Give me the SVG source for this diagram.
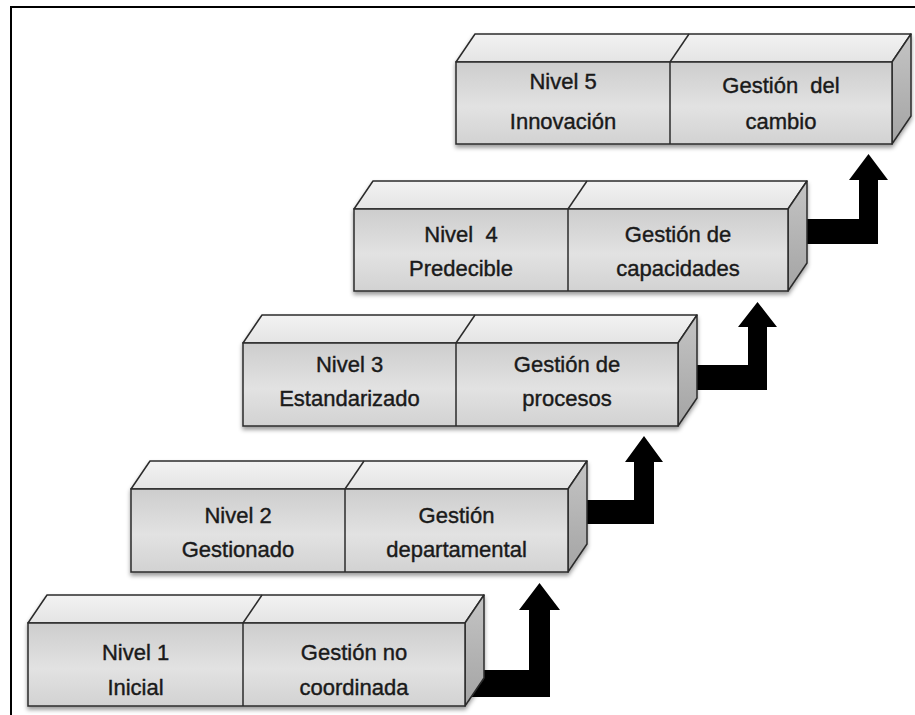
<svg xmlns="http://www.w3.org/2000/svg" width="915" height="715" viewBox="0 0 915 715">
<style>
.front{fill:url(#gFront);stroke:#2b2b2b;stroke-width:1.5}
.top{fill:url(#gTop);stroke:#2b2b2b;stroke-width:1.5;stroke-linejoin:round}
.side{fill:url(#gSide);stroke:#2b2b2b;stroke-width:1.5;stroke-linejoin:round}
.div{stroke:#2b2b2b;stroke-width:1.5;fill:none}
.t{font-family:"Liberation Sans",Arial,sans-serif;font-size:22px;fill:#1a1a1a;stroke:#1a1a1a;stroke-width:0.4;text-anchor:middle;white-space:pre}
.arrow{fill:#000}
.frame{stroke:#000;stroke-width:2;fill:none}
</style>
<defs>
<linearGradient id="gFront" x1="0" y1="0" x2="0" y2="1">
<stop offset="0" stop-color="#cdcdcd"/>
<stop offset="0.55" stop-color="#e2e2e2"/>
<stop offset="1" stop-color="#d2d2d2"/>
</linearGradient>
<linearGradient id="gTop" x1="0" y1="0" x2="0" y2="1">
<stop offset="0" stop-color="#f2f2f2"/>
<stop offset="1" stop-color="#e4e4e4"/>
</linearGradient>
<linearGradient id="gSide" x1="0" y1="0" x2="0" y2="1">
<stop offset="0" stop-color="#c4c4c4"/>
<stop offset="1" stop-color="#a4a4a4"/>
</linearGradient>
<filter id="shadow" x="-5%" y="-20%" width="110%" height="140%">
<feDropShadow dx="0" dy="3" stdDeviation="2" flood-color="#000" flood-opacity="0.4"/>
</filter>
</defs>
<rect width="915" height="715" fill="#fff"/>
<path class="frame" d="M11,715 V7 H915"/>

<g id="connectors">
<polygon class="arrow" points="470,670 529,670 529,610 519,610 539.5,583 560,610 550,610 550,697 470,697"/>
<polygon class="arrow" points="580,500 634,500 634,462 625,462 644,436 663,462 654,462 654,524 580,524"/>
<polygon class="arrow" points="690,365 748,365 748,327 738,327 757.5,302 777,327 767,327 767,390 690,390"/>
<polygon class="arrow" points="800,219 859,219 859,180 849,180 868.5,154 888,180 878,180 878,244 800,244"/>
</g>

<g id="nivel1">
<g filter="url(#shadow)">
<polygon class="top" points="28,623 47,595 484,595 465,623"/>
<polygon class="side" points="465,623 484,595 484,678 465,706"/>
<rect class="front" x="28" y="623" width="437" height="83"/>
</g>
<line class="div" x1="243" y1="623" x2="243" y2="706"/>
<line class="div" x1="243" y1="623" x2="262" y2="595"/>
<text class="t" x="135.5" y="660">Nivel 1</text>
<text class="t" x="135.5" y="695">Inicial</text>
<text class="t" x="354" y="660">Gestión no</text>
<text class="t" x="354" y="695">coordinada</text>
</g>

<g id="nivel2">
<g filter="url(#shadow)">
<polygon class="top" points="131,489 150,461 587,461 568,489"/>
<polygon class="side" points="568,489 587,461 587,544 568,572"/>
<rect class="front" x="131" y="489" width="437" height="83"/>
</g>
<line class="div" x1="345" y1="489" x2="345" y2="572"/>
<line class="div" x1="345" y1="489" x2="364" y2="461"/>
<text class="t" x="238" y="523">Nivel 2</text>
<text class="t" x="238" y="557">Gestionado</text>
<text class="t" x="456.5" y="523">Gestión</text>
<text class="t" x="456.5" y="557">departamental</text>
</g>

<g id="nivel3">
<g filter="url(#shadow)">
<polygon class="top" points="243,343 262,315 697,315 678,343"/>
<polygon class="side" points="678,343 697,315 697,398 678,426"/>
<rect class="front" x="243" y="343" width="435" height="83"/>
</g>
<line class="div" x1="456" y1="343" x2="456" y2="426"/>
<line class="div" x1="456" y1="343" x2="475" y2="315"/>
<text class="t" x="349.5" y="372">Nivel 3</text>
<text class="t" x="349.5" y="406">Estandarizado</text>
<text class="t" x="567" y="372">Gestión de</text>
<text class="t" x="567" y="406">procesos</text>
</g>

<g id="nivel4">
<g filter="url(#shadow)">
<polygon class="top" points="354,209 373,181 807,181 788,209"/>
<polygon class="side" points="788,209 807,181 807,263 788,291"/>
<rect class="front" x="354" y="209" width="434" height="82"/>
</g>
<line class="div" x1="568" y1="209" x2="568" y2="291"/>
<line class="div" x1="568" y1="209" x2="587" y2="181"/>
<text class="t" x="461" y="242">Nivel  4</text>
<text class="t" x="461" y="276">Predecible</text>
<text class="t" x="678" y="242">Gestión de</text>
<text class="t" x="678" y="276">capacidades</text>
</g>

<g id="nivel5">
<g filter="url(#shadow)">
<polygon class="top" points="456,62 475,34 911,34 892,62"/>
<polygon class="side" points="892,62 911,34 911,116 892,144"/>
<rect class="front" x="456" y="62" width="436" height="82"/>
</g>
<line class="div" x1="670" y1="62" x2="670" y2="144"/>
<line class="div" x1="670" y1="62" x2="689" y2="34"/>
<text class="t" x="563" y="89">Nivel 5</text>
<text class="t" x="563" y="129">Innovación</text>
<text class="t" x="781" y="93">Gestión  del</text>
<text class="t" x="781" y="129">cambio</text>
</g>
</svg>
